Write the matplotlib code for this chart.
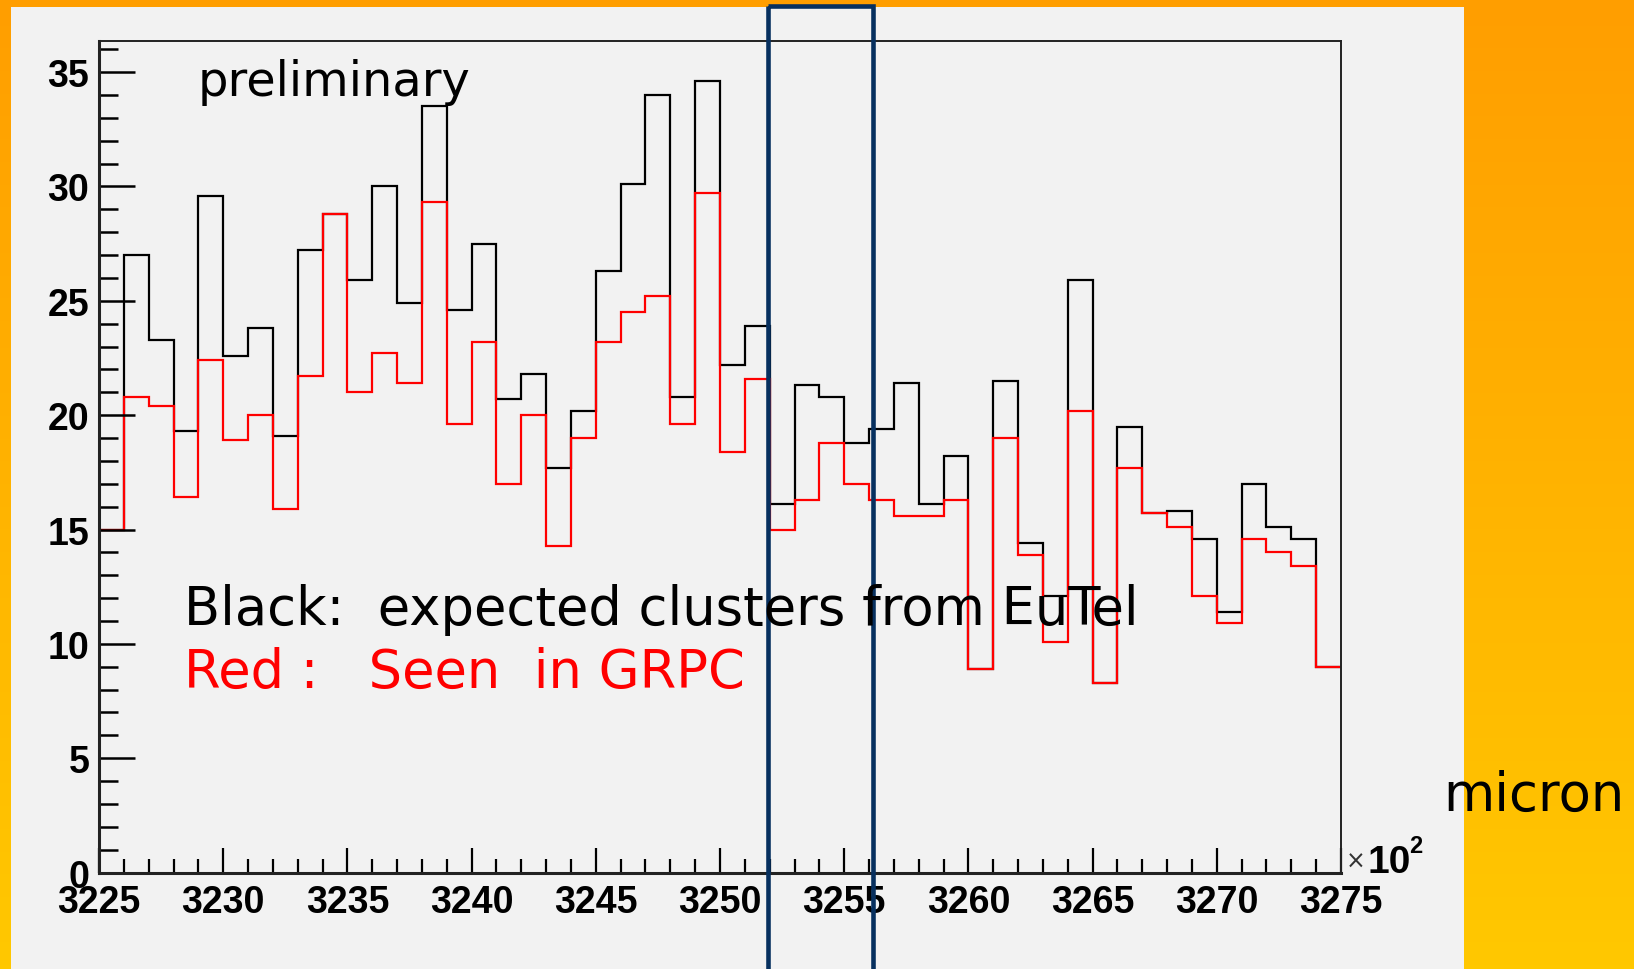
import numpy as np
import matplotlib
matplotlib.use("Agg")
import matplotlib.pyplot as plt
from matplotlib.patches import Rectangle

W, H = 1634, 970

# bin range (x10^2 micron) and contents
x_lo, x_hi = 3225, 3275
expected = [15.0, 27.0, 23.3, 19.3, 29.6, 22.6, 23.8, 19.1, 27.2, 28.8,
            25.9, 30.0, 24.9, 33.5, 24.6, 27.5, 20.7, 21.8, 17.7, 20.2,
            26.3, 30.1, 34.0, 20.8, 34.6, 22.2, 23.9, 16.1, 21.3, 20.8,
            18.8, 19.4, 21.4, 16.1, 18.2, 8.9, 21.5, 14.4, 12.1, 25.9,
            8.3, 19.5, 15.7, 15.8, 14.6, 11.4, 17.0, 15.1, 14.6, 9.0]
seen = [15.0, 20.8, 20.4, 16.4, 22.4, 18.9, 20.0, 15.9, 21.7, 28.8,
        21.0, 22.7, 21.4, 29.3, 19.6, 23.2, 17.0, 20.0, 14.3, 19.0,
        23.2, 24.5, 25.2, 19.6, 29.7, 18.4, 21.6, 15.0, 16.3, 18.8,
        17.0, 16.3, 15.6, 15.6, 16.3, 8.9, 19.0, 13.9, 10.1, 20.2,
        8.3, 17.7, 15.7, 15.1, 12.1, 10.9, 14.6, 14.0, 13.4, 9.0]
xticks = list(range(3225, 3276, 5))
yticks = [0, 5, 10, 15, 20, 25, 30, 35]

edges = np.linspace(x_lo, x_hi, len(expected) + 1)


def fx(px):
    return px / W


def fy(py):
    return 1 - py / H


fig = plt.figure(figsize=(W / 100, H / 100), dpi=100)

# ----- slide background: orange gradient + grey panel -----
bg = fig.add_axes([0, 0, 1, 1], zorder=0)
bg.set_xlim(0, W)
bg.set_ylim(H, 0)
bg.axis("off")
t = np.linspace(0, 1, 256)[:, None]
top, bot = np.array([255, 158, 0]) / 255, np.array([255, 200, 0]) / 255
grad = (top * (1 - t) + bot * t)[:, None, :].repeat(2, axis=1)
bg.imshow(grad, extent=(0, W, H, 0), aspect="auto", zorder=0)
bg.add_patch(Rectangle((11, 8), 1453, H, facecolor="#f2f2f2",
                       edgecolor="none", zorder=1))

# ----- histogram frame -----
L, R, T, B = 99, 1341, 41.7, 873.6
ax = fig.add_axes([fx(L), fy(B), fx(R - L), (B - T) / H], zorder=1)
ax.set_facecolor("none")
ax.stairs(expected, edges, baseline=None, color="black", linewidth=1.6)
ax.stairs(seen, edges, baseline=None, color="red", linewidth=1.6)
ax.set_xlim(x_lo, x_hi)
ax.set_ylim(0, 36.37)

ax.set_xticks(xticks)
ax.set_xticks(range(x_lo, x_hi + 1), minor=True)
ax.set_yticks(yticks)
ax.set_yticks(range(0, 37), minor=True)
ax.tick_params(axis="x", which="major", direction="in", length=18, width=1.6,
               pad=8, top=False)
ax.tick_params(axis="x", which="minor", direction="in", length=10, width=1.6,
               top=False)
ax.tick_params(axis="y", which="major", direction="in", length=26, width=1.8,
               pad=7, right=False)
ax.tick_params(axis="y", which="minor", direction="in", length=13.5, width=1.8,
               right=False)
for lab in ax.get_xticklabels() + ax.get_yticklabels():
    lab.set_fontfamily("Liberation Sans")
    lab.set_fontweight("bold")
    lab.set_fontsize(27)
for side in ("left", "bottom"):
    ax.spines[side].set_linewidth(2.2)
for side in ("top", "right"):
    ax.spines[side].set_linewidth(1.4)
for s in ax.spines.values():
    s.set_color("#222222")

# ----- texts -----
fig.text(fx(1346), fy(862), "\u00d7", fontsize=17, color="#333333",
         va="center", ha="left")
fig.text(fx(1367), fy(873), "10", fontsize=28, fontweight="bold",
         family="Liberation Sans", va="baseline", ha="left")
fig.text(fx(1409), fy(853), "2", fontsize=17, fontweight="bold",
         family="Liberation Sans", va="baseline", ha="left")

fig.text(fx(198), fy(83), "preliminary", fontsize=34.5, va="center", ha="left")
fig.text(fx(184), fy(610), "Black:  expected clusters from EuTel",
         fontsize=38, va="center", ha="left", color="black", zorder=5)
fig.text(fx(184), fy(673), "Red :   Seen  in GRPC",
         fontsize=38, va="center", ha="left", color="red", zorder=5)
fig.text(fx(1443), fy(796), "micron", fontsize=38, va="center", ha="left")

# ----- highlight box -----
ov = fig.add_axes([0, 0, 1, 1], zorder=3)
ov.set_xlim(0, W)
ov.set_ylim(H, 0)
ov.axis("off")
ov.add_patch(Rectangle((768, 7), 105.5, H + 20, facecolor="none",
                       edgecolor="#07305f", linewidth=3.3))

fig.savefig("out.png", dpi=100)
